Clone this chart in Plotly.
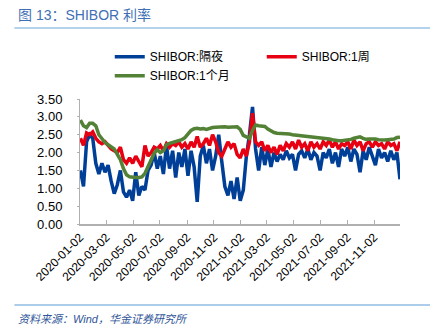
import pandas as pd
import plotly.graph_objects as go

# weekly observation dates (Fridays), 2020-01-03 .. 2021-12-31
dates = pd.date_range("2020-01-03", "2021-12-31", freq="7D")

overnight = [1.50, 1.05, 2.30, 2.50, 2.40, 1.70, 1.40, 1.70, 1.45, 1.65,
             1.20, 0.85, 1.10, 1.50, 0.90, 0.75, 0.95, 0.65, 1.45, 0.80,
             1.05, 0.95, 1.50, 1.65, 2.00, 1.55, 1.90, 1.40, 2.20, 1.55,
             2.05, 1.30, 2.00, 1.60, 2.10, 1.35, 2.05, 1.60, 0.62, 1.90,
             2.20, 1.70, 2.10, 1.50, 1.90, 2.50, 1.75, 1.05, 0.80, 1.20,
             0.70, 1.30, 0.65, 0.95, 1.90, 2.50, 3.28, 2.10, 1.50, 2.15,
             1.65, 2.10, 1.60, 2.00, 1.75, 1.95, 1.80, 2.05, 1.85, 1.95,
             1.50, 1.95, 2.05, 1.85, 2.10, 1.80, 2.00, 1.90, 1.50, 2.00,
             1.85, 2.10, 1.70, 2.00, 1.60, 2.10, 1.90, 2.15, 1.75, 2.10,
             1.95, 1.45, 2.05, 1.80, 2.15, 1.90, 1.65, 2.10, 1.85, 2.00,
             1.75, 2.05, 1.80, 2.00, 1.25]

week1 = [2.40, 2.20, 2.55, 2.50, 2.58, 2.40, 2.30, 2.25, 2.30, 2.18,
         2.10, 2.05, 2.00, 2.15, 1.80, 1.70, 1.85, 1.70, 1.90, 1.75,
         1.60, 2.20, 1.90, 2.00, 2.15, 2.10, 2.20, 2.05, 2.25, 2.15,
         2.25, 2.20, 2.30, 2.15, 2.25, 2.10, 2.30, 2.15, 2.45, 2.15,
         2.25, 2.40, 2.20, 2.50, 2.30, 2.00, 1.90, 2.10, 2.30, 2.15,
         2.25, 1.95, 1.85, 2.10, 1.90, 2.30, 3.10, 2.30, 2.20, 2.30,
         2.05, 2.20, 2.00, 2.15, 1.95, 2.20, 2.05, 2.25, 2.15, 2.30,
         2.10, 2.35, 2.15, 2.25, 2.05, 2.30, 2.15, 2.25, 2.10, 2.30,
         2.20, 2.35, 2.15, 2.30, 2.10, 2.25, 2.20, 2.30, 2.10, 2.35,
         2.20, 2.30, 2.05, 2.25, 2.30, 2.15, 2.30, 2.20, 2.25, 2.10,
         2.30, 2.20, 2.25, 2.05, 2.30]

month1 = [2.91, 2.75, 2.70, 2.82, 2.82, 2.75, 2.50, 2.38, 2.28, 2.22,
          2.15, 2.10, 1.95, 1.80, 1.55, 1.38, 1.32, 1.30, 1.30, 1.30,
          1.32, 1.42, 1.60, 1.78, 1.98, 2.08, 2.00, 2.05, 2.22, 2.26,
          2.28, 2.30, 2.32, 2.36, 2.42, 2.52, 2.62, 2.67, 2.68, 2.66,
          2.67, 2.65, 2.68, 2.70, 2.71, 2.72, 2.73, 2.72, 2.71, 2.72,
          2.71, 2.72, 2.65, 2.48, 2.44, 2.40, 2.62, 2.77, 2.75, 2.74,
          2.73, 2.66, 2.60, 2.56, 2.54, 2.54, 2.53, 2.52, 2.52, 2.50,
          2.49, 2.49, 2.48, 2.48, 2.45, 2.44, 2.44, 2.43, 2.42, 2.40,
          2.40, 2.38, 2.36, 2.34, 2.33, 2.33, 2.34, 2.34, 2.37, 2.40,
          2.43, 2.44, 2.40, 2.37, 2.38, 2.39, 2.38, 2.36, 2.35, 2.35,
          2.36, 2.36, 2.38, 2.42, 2.43]

tick_labels = ["2020-01-02", "2020-03-02", "2020-05-02", "2020-07-02",
               "2020-09-02", "2020-11-02", "2021-01-02", "2021-03-02",
               "2021-05-02", "2021-07-02", "2021-09-02", "2021-11-02"]

series_names = ["SHIBOR:隔夜", "SHIBOR:1周", "SHIBOR:1个月"]
colors = ["#003f98", "#e60012", "#538135"]

FONT = "Liberation Sans, Arial, Noto Sans CJK SC, sans-serif"

fig = go.Figure()
for name, vals, col in zip(series_names, [overnight, week1, month1], colors):
    fig.add_trace(go.Scatter(x=dates, y=vals, mode="lines", name=name,
                             line=dict(color=col, width=3.5)))

fig.update_layout(
    width=440, height=333,
    margin=dict(l=80, r=40, t=99, b=109),
    paper_bgcolor="white", plot_bgcolor="white",
    font=dict(family=FONT, size=12, color="#000000"),
    showlegend=True,
    legend=dict(orientation="h", x=0.093, y=1.455, xanchor="left", yanchor="top",
                entrywidth=107, entrywidthmode="pixels",
                font=dict(size=12), tracegroupgap=0, itemwidth=30,
                bgcolor="rgba(0,0,0,0)"),
    xaxis=dict(range=["2020-01-02", "2021-12-31"], tickmode="array",
               tickvals=tick_labels, ticktext=tick_labels, tickangle=-45,
               showgrid=False, showline=True, linecolor="#b0b0b0", linewidth=1.5,
               ticks="inside", ticklen=4, tickcolor="#b0b0b0",
               tickfont=dict(size=12)),
    yaxis=dict(range=[0, 3.5], dtick=0.5, tickformat=".2f", showgrid=False,
               showline=True, linecolor="#b0b0b0", linewidth=1,
               ticks="outside", ticklen=2, tickcolor="#b0b0b0",
               ticklabelstandoff=12,
               zeroline=False, tickfont=dict(size=13)),
    shapes=[
        dict(type="line", xref="paper", yref="paper", x0=-0.205, x1=1.094,
             y0=1 + (99 - 28) / 125, y1=1 + (99 - 28) / 125,
             line=dict(color="#9dc3e6", width=1.5)),
        dict(type="line", xref="paper", yref="paper", x0=-0.205, x1=1.094,
             y0=-(305 - 224) / 125, y1=-(305 - 224) / 125,
             line=dict(color="#5b9bd5", width=1)),
    ],
    annotations=[
        dict(text="图 13：SHIBOR 利率", xref="paper", yref="paper",
             x=-0.2, y=1 + (99 - 15) / 125, xanchor="left", yanchor="middle",
             showarrow=False, font=dict(size=14, color="#3f6fb4", family=FONT)),
        dict(text="<i>资料来源：Wind，华金证券研究所</i>", xref="paper", yref="paper",
             x=-0.2, y=-(319 - 224) / 125, xanchor="left", yanchor="middle",
             showarrow=False, font=dict(size=11, color="#2f5597", family=FONT)),
    ],
)

fig.write_html("out.html")
